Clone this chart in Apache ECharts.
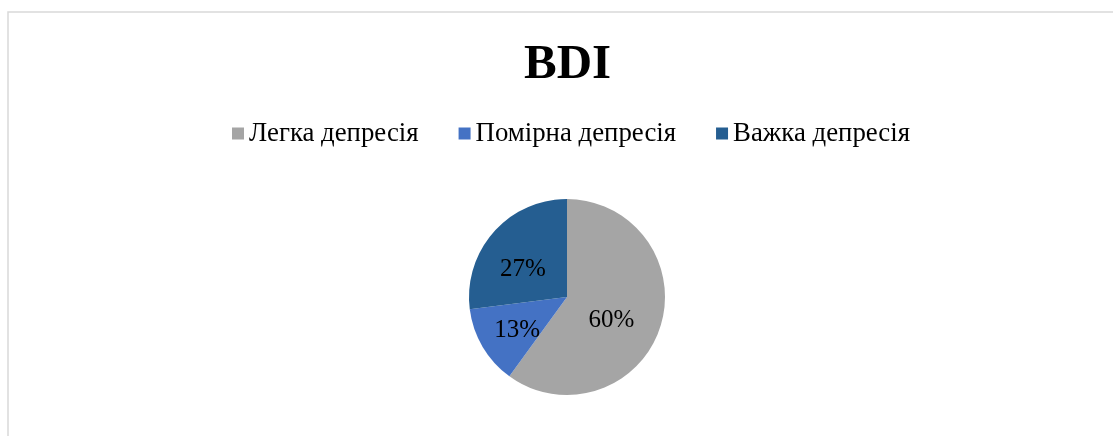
<!DOCTYPE html>
<html>
<head>
<meta charset="utf-8">
<script src="https://cdn.jsdelivr.net/npm/echarts@6/dist/echarts.min.js"></script>
<style>
  html, body { margin: 0; padding: 0; background: #ffffff; }
  #chart { width: 1113px; height: 436px; }
</style>
</head>
<body>
<div id="chart"></div>
<script>
// BDI severity distribution
const categories = ['Легка депресія', 'Помірна депресія', 'Важка депресія'];
const shares = [60, 13, 27];
const colors = ['#A5A5A5', '#4472C4', '#255E91'];

const serif = "'Liberation Serif', 'Times New Roman', serif";

const chart = echarts.init(document.getElementById('chart'), null, { renderer: 'canvas' });

chart.setOption({
  animation: false,
  backgroundColor: '#ffffff',
  color: colors,
  graphic: [{
    type: 'rect',
    shape: { x: 8, y: 12, width: 1120, height: 440 },
    style: { fill: 'none', stroke: '#D9D9D9', lineWidth: 1.5 },
    silent: true
  }],
  title: {
    text: 'BDI',
    left: 519,
    top: 36,
    textStyle: { fontFamily: serif, fontWeight: 'bold', fontSize: 49, color: '#000000' }
  },
  legend: {
    data: categories,
    left: 227,
    top: 115,
    icon: 'rect',
    itemWidth: 12,
    itemHeight: 12,
    itemGap: 40,
    textStyle: { fontFamily: serif, fontSize: 26.8, color: '#000000' }
  },
  series: [{
    type: 'pie',
    center: [567, 297],
    radius: [0, 98],
    startAngle: 90,
    clockwise: true,
    label: {
      show: true,
      position: 'inside',
      formatter: '{d}%',
      fontFamily: serif,
      fontSize: 25,
      color: '#000000',
      offset: [-5, 7]
    },
    labelLine: { show: false },
    itemStyle: { borderColor: '#ffffff', borderWidth: 0 },
    emphasis: { disabled: true },
    data: categories.map((name, i) => ({ name, value: shares[i] }))
  }]
});
</script>
</body>
</html>
